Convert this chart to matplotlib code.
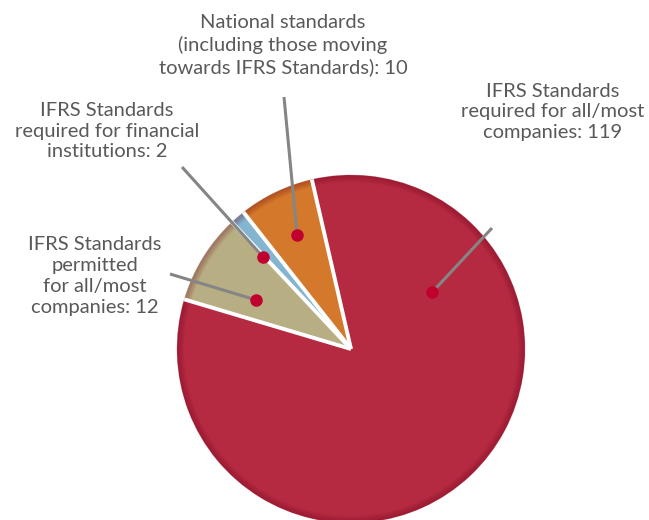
import numpy as np
import matplotlib.pyplot as plt

# data (order as drawn counter-clockwise from the top)
categories = [
    "National standards\n(including those moving\ntowards IFRS Standards): 10",
    "IFRS Standards\nrequired for financial\ninstitutions: 2",
    "IFRS Standards\npermitted\nfor all/most\ncompanies: 12",
    "IFRS Standards\nrequired for all/most\ncompanies: 119",
]
values = [10, 2, 12, 119]
colors = ["#D4782B", "#83B4D0", "#B8AE83", "#B52A41"]

# label layout: text position (px), line end (px), dot angle (deg) and dot radius (fraction)
label_xy = [(283, 45), (107, 131), (95, 276), (553, 112)]
line_end = [(284, 97), (182, 167), (170, 274), (492, 228)]
dot_pos = [(115.3, 0.725), (133.7, 0.73), (152.7, 0.615), (35.0, 0.57)]

W, H = 649, 520
cx, cy, R = 351, H - 349, 174
start = 103

fig = plt.figure(figsize=(W / 100, H / 100), dpi=100)
ax = fig.add_axes([0, 0, 1, 1])

wedges, _ = ax.pie(values, colors=colors, startangle=start, counterclock=True,
                   center=(cx, cy), radius=R, frame=True,
                   wedgeprops=dict(edgecolor="none", linewidth=0))
ax.set_xlim(0, W)
ax.set_ylim(0, H)
ax.set_aspect("equal")
ax.axis("off")

# darker rim for a bit of depth
for k in range(7):
    ring = plt.Circle((cx, cy), R - 0.5 - k * 1.0, fill=False, edgecolor="#6a0018",
                      linewidth=1.2, alpha=0.22 - k * 0.03, zorder=3)
    ax.add_patch(ring)

# white separators between slices
bounds = start + np.cumsum([0] + values) / sum(values) * 360
for b in bounds[:-1]:
    a = np.deg2rad(b)
    ax.plot([cx, cx + R * np.cos(a)], [cy, cy + R * np.sin(a)], color="white",
            lw=2.8, zorder=4, solid_capstyle="butt")

for lab, (tx, ty), (lx, ly), (ang, fr) in zip(categories, label_xy, line_end, dot_pos):
    a = np.deg2rad(ang)
    dx, dy = cx + fr * R * np.cos(a), cy + fr * R * np.sin(a)
    ax.plot([lx, dx], [H - ly, dy], color="#858585", lw=2.2, zorder=5,
            solid_capstyle="butt")
    ax.plot(dx, dy, "o", color="#C0002F", ms=8, zorder=6)
    ax.text(tx, H - ty, lab, ha="center", va="center", fontsize=14.5,
            family="Lato", color="#595959", linespacing=1.28)

fig.savefig("out.png", dpi=100)
